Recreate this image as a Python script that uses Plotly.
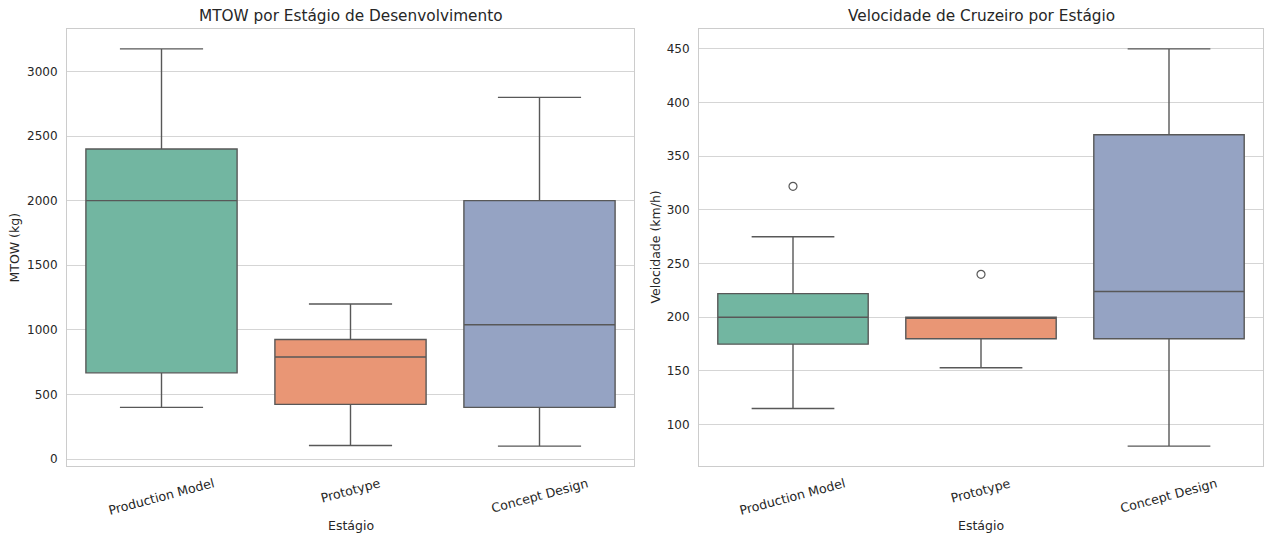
import plotly.graph_objects as go

# ---- data ----
stages = ["Production Model", "Prototype", "Concept Design"]

mtow_lower = [400, 105, 100]
mtow_q1 = [667, 423, 400]
mtow_median = [2000, 790, 1040]
mtow_q3 = [2400, 925, 2000]
mtow_upper = [3175, 1200, 2800]

vel_lower = [115, 153, 80]
vel_q1 = [175, 180, 180]
vel_median = [200, 200, 224]
vel_q3 = [222, 200, 370]
vel_upper = [275, 200, 450]
vel_outlier_stage = ["Production Model", "Prototype"]
vel_outlier_value = [322, 240]

colors = ["#72b6a1", "#e99675", "#95a3c3"]
line_col = "#585858"
font_family = "DejaVu Sans, Liberation Sans, sans-serif"
text_col = "#262626"

fig = go.Figure()

def add_boxes(xa, ya, lower, q1, med, q3, upper):
    for i, s in enumerate(stages):
        fig.add_trace(go.Box(
            x=[s], q1=[q1[i]], median=[med[i]], q3=[q3[i]],
            lowerfence=[lower[i]], upperfence=[upper[i]],
            fillcolor=colors[i], line=dict(color=line_col, width=1.4),
            width=0.8, whiskerwidth=0.55, boxpoints=False,
            xaxis=xa, yaxis=ya, showlegend=False, hoverinfo="skip",
        ))

add_boxes("x", "y", mtow_lower, mtow_q1, mtow_median, mtow_q3, mtow_upper)
add_boxes("x2", "y2", vel_lower, vel_q1, vel_median, vel_q3, vel_upper)

fig.add_trace(go.Scatter(
    x=vel_outlier_stage, y=vel_outlier_value, mode="markers",
    marker=dict(symbol="circle-open", size=8, color=line_col, line=dict(width=1.2, color=line_col)),
    xaxis="x2", yaxis="y2", showlegend=False, hoverinfo="skip",
))

W, H = 1264, 535
def px_x(p): return p / W
def px_y(p): return 1 - p / H

grid = "#d5d5d5"
axis_common = dict(showline=True, mirror=True, linecolor="#cccccc", linewidth=1,
                   tickfont=dict(family=font_family, size=12, color=text_col))

fig.update_layout(
    width=W, height=H, margin=dict(l=0, r=0, t=0, b=0),
    paper_bgcolor="white", plot_bgcolor="white", boxmode="overlay",
    xaxis=dict(domain=[px_x(67), px_x(634)], anchor="y", type="category",
               categoryorder="array", categoryarray=stages, range=[-0.5, 2.5],
               showgrid=False, showticklabels=False, ticks="", **axis_common),
    yaxis=dict(domain=[px_y(466), px_y(29)], anchor="x", range=[-54, 3329],
               tickvals=[0, 500, 1000, 1500, 2000, 2500, 3000],
               showgrid=True, gridcolor=grid, gridwidth=1, zeroline=False,
               ticks="", ticklabelstandoff=6, **axis_common),
    xaxis2=dict(domain=[px_x(699), px_x(1263)], anchor="y2", type="category",
                categoryorder="array", categoryarray=stages, range=[-0.5, 2.5],
                showgrid=False, showticklabels=False, ticks="", **axis_common),
    yaxis2=dict(domain=[px_y(466), px_y(29)], anchor="x2", range=[61.5, 468.5],
                tickvals=[100, 150, 200, 250, 300, 350, 400, 450],
                showgrid=True, gridcolor=grid, gridwidth=1, zeroline=False,
                ticks="", ticklabelstandoff=6, **axis_common),
)

ann = []
# titles
ann.append(dict(text="MTOW por Estágio de Desenvolvimento", x=px_x(350.5), y=px_y(16),
                xref="paper", yref="paper", showarrow=False, xanchor="center", yanchor="middle",
                font=dict(family=font_family, size=15.3, color=text_col)))
ann.append(dict(text="Velocidade de Cruzeiro por Estágio", x=px_x(981), y=px_y(16),
                xref="paper", yref="paper", showarrow=False, xanchor="center", yanchor="middle",
                font=dict(family=font_family, size=15.3, color=text_col)))
# x axis titles
for cx in (350.5, 981):
    ann.append(dict(text="Estágio", x=px_x(cx), y=px_y(525), xref="paper", yref="paper",
                    showarrow=False, xanchor="center", yanchor="middle",
                    font=dict(family=font_family, size=12.5, color=text_col)))
# y axis titles
ann.append(dict(text="MTOW (kg)", x=px_x(14), y=px_y(247.5), xref="paper", yref="paper",
                showarrow=False, textangle=-90, xanchor="center", yanchor="middle",
                font=dict(family=font_family, size=12.5, color=text_col)))
ann.append(dict(text="Velocidade (km/h)", x=px_x(655), y=px_y(247.5), xref="paper", yref="paper",
                showarrow=False, textangle=-90, xanchor="center", yanchor="middle",
                font=dict(family=font_family, size=12.5, color=text_col)))
# rotated category tick labels
for xr in ("x", "x2"):
    for s in stages:
        ann.append(dict(text=s, x=s, y=px_y(473), xref=xr, yref="paper", showarrow=False,
                        textangle=-15, xanchor="center", yanchor="top",
                        font=dict(family=font_family, size=12.6, color=text_col)))
fig.update_layout(annotations=ann)

fig.write_html("out.html", config={"displayModeBar": False},
               post_script="document.body.style.margin='0';document.body.style.padding='0';document.body.style.overflow='hidden';")
